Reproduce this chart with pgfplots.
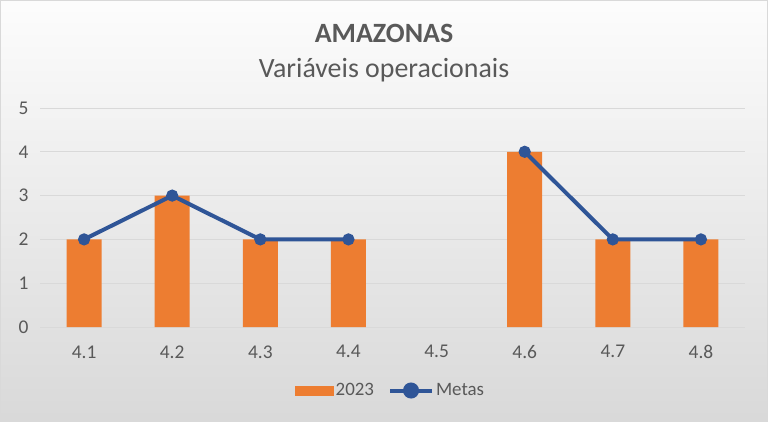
\documentclass[border=0pt]{standalone}
\usepackage{fontspec}
\setmainfont{Carlito}
\usepackage{pgfplots}
\pgfplotsset{compat=1.18}
\definecolor{orangeB}{HTML}{ED7D31}
\definecolor{blueL}{HTML}{2F5597}
\definecolor{txt}{HTML}{595959}
\definecolor{gridc}{HTML}{D9D9D9}
\begin{document}
\begin{tikzpicture}[x=1bp,y=1bp]
\shade[top color=white!99!black, bottom color=black!15] (0,0) rectangle (768,421);
\draw[gridc, line width=1.2bp] (0.6,0.6) rectangle (767.4,420.4);
\node[font=\bfseries\fontsize{28}{32}\selectfont, text=txt, anchor=base] at (384,379) {AMAZONAS};
\node[font=\fontsize{28}{32}\selectfont, text=txt, anchor=base] at (384,344) {Variáveis operacionais};
\begin{axis}[
  at={(40bp,94bp)}, anchor=south west,
  scale only axis, width=705bp, height=219bp,
  xmin=-0.5, xmax=7.5, ymin=0, ymax=5,
  axis line style={draw=none},
  tick style={draw=none},
  ymajorgrids, grid style={gridc, line width=1bp},
  ytick={0,1,2,3,4,5},
  xtick={0,1,2,3,4,5,6,7},
  xticklabels={4.1,4.2,4.3,4.4,4.5,4.6,4.7,4.8},
  /pgf/number format/assume math mode=true,
  ticklabel style={font=\fontsize{19.5}{22}\selectfont, text=txt},
  yticklabel style={xshift=-8bp},
  xticklabel style={yshift=-15bp},
  unbounded coords=jump,
  legend columns=2,
  legend style={draw=none, fill=none, at={(0.497,-0.29)}, anchor=center,
    font=\fontsize{19}{22}\selectfont, text=txt,
    nodes={inner sep=2bp},
    /tikz/column 2/.style={column sep=12bp}},
]
\addplot[ybar, bar width=35bp, fill=orangeB, draw=none, bar shift=0pt,
  legend image code/.code={\fill[orangeB] (0bp,-5bp) rectangle (39bp,5bp);}]
  coordinates {(0,2) (1,3) (2,2) (3,2) (5,4) (6,2) (7,2)};
\addlegendentry{2023}
\addplot[blueL, line width=4bp, mark=*, mark size=4bp,
  legend image code/.code={\draw[blueL, line width=4bp] (0bp,0bp) -- (42bp,0bp); \fill[blueL] (21bp,0bp) circle (6bp);}]
  coordinates {(0,2) (1,3) (2,2) (3,2) (4,nan) (5,4) (6,2) (7,2)};
\addlegendentry{Metas}
\end{axis}
\end{tikzpicture}
\end{document}
